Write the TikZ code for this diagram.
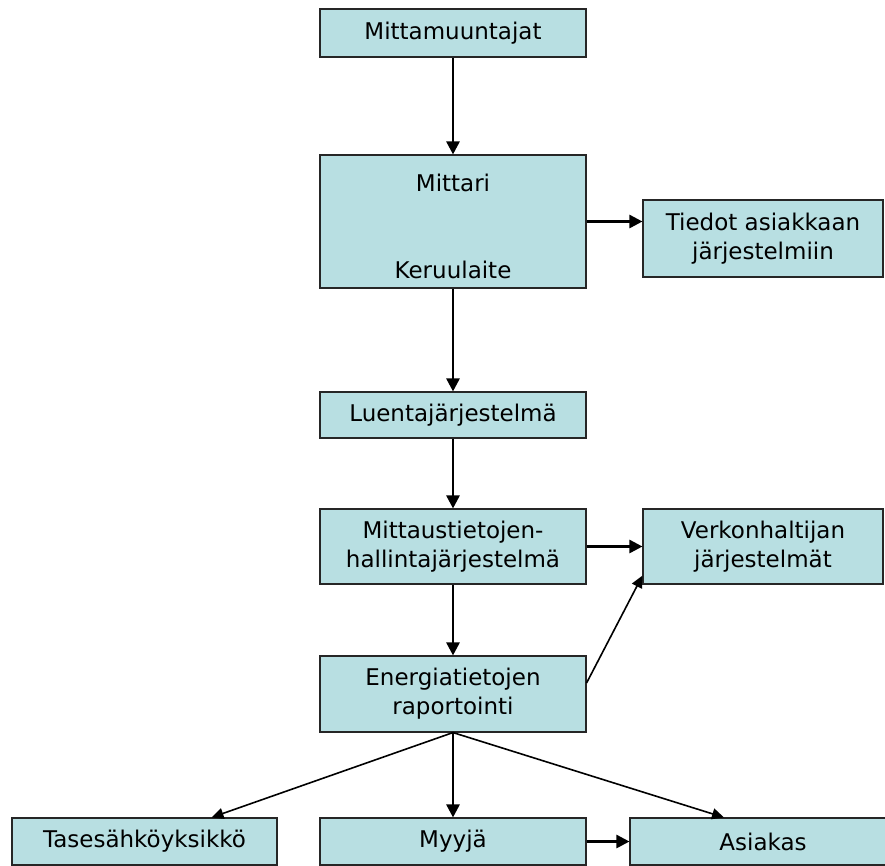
\documentclass[tikz,border=0pt]{standalone}
\usepackage{fontspec}
\setmainfont{DejaVu Sans}
\usetikzlibrary{arrows.meta}
\definecolor{boxfill}{HTML}{B8DFE2}

\begin{document}
\begin{tikzpicture}[x=1pt, y=-1pt,
  box/.style={
    draw=black!85,
    line width=1.1pt,
    fill=boxfill,
    align=center,
    inner sep=0pt,
    font=\fontsize{23}{29}\selectfont,
  },
  mainbox/.style={box, minimum width=266pt},
  sidebox/.style={box, minimum width=240pt},
  boxtext/.style={anchor=base, inner sep=0pt, font=\fontsize{23}{29}\selectfont},
  flow/.style={line width=2.6pt, -{Triangle[length=13pt, width=13pt]}},
  thinflow/.style={line width=1.6pt, -{Triangle[length=12pt, width=11pt]}},
]
\useasboundingbox (0,0) rectangle (885,865);

% main column
\node[mainbox, minimum height=48pt] (muuntajat) at (453,33) {Mittamuuntajat};
\node[mainbox, minimum height=133pt] (mittari) at (453,221.5) {};
\node[boxtext] (mittarilabel) at (453,191) {Mittari};
\node[boxtext] (keruulabel) at (453,278) {Keruulaite};
\node[mainbox, minimum height=46pt] (luenta) at (453,415) {Luentajärjestelmä};
\node[mainbox, minimum height=75pt] (mittaus) at (453,546.5) {Mittaustietojen-\\hallintajärjestelmä};
\node[mainbox, minimum height=76pt] (energia) at (453,694) {Energiatietojen\\raportointi};

% side boxes
\node[sidebox, minimum height=77pt] (tiedot) at (763,238.5) {Tiedot asiakkaan\\järjestelmiin};
\node[sidebox, minimum height=75pt] (verkon) at (763,546.5) {Verkonhaltijan\\järjestelmät};

% bottom row
\node[box, minimum width=265pt, minimum height=47pt] (tase) at (144.5,841.5) {Tasesähköyksikkö};
\node[mainbox, minimum height=47pt] (myyja) at (453,841.5) {Myyjä};
\node[box, minimum width=266pt, minimum height=47pt] (asiakas) at (763,841.5) {Asiakas};

% arrows
\draw[flow] (muuntajat) -- (mittari);
\draw[flow] (mittari.east) -- (mittari.east -| tiedot.west);
\draw[flow] (mittari) -- (luenta);
\draw[flow] (luenta) -- (mittaus);
\draw[flow] (mittaus.east) -- (mittaus.east -| verkon.west);
\draw[flow] (mittaus) -- (energia);
\draw[thinflow] ([yshift=11pt]energia.east) -- ([yshift=9pt]verkon.south west);
\draw[thinflow] (energia.south) -- ([xshift=67pt]tase.north);
\draw[flow] (energia.south) -- (myyja.north);
\draw[thinflow] (energia.south) -- ([xshift=-39pt]asiakas.north);
\draw[flow] (myyja) -- (asiakas);

\end{tikzpicture}
\end{document}
